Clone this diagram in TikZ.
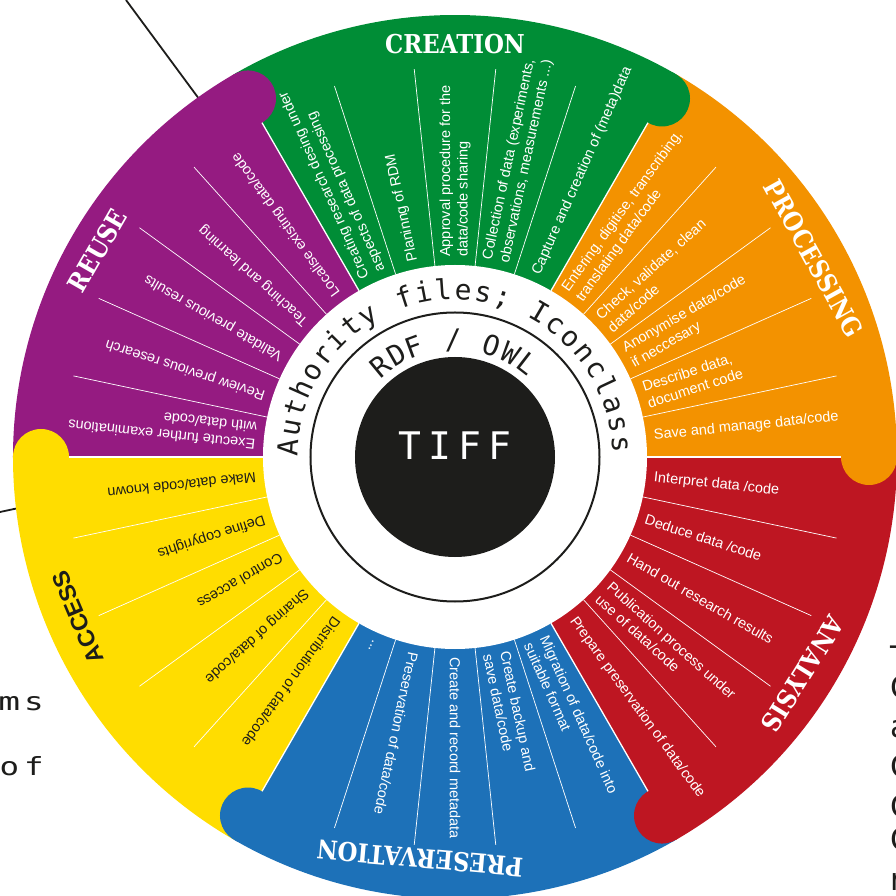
\documentclass[tikz,border=0pt]{standalone}
\usepackage{fontspec}
\setmainfont{Liberation Sans}
\newfontfamily\slabfont{DejaVu Serif}[FakeStretch=0.88]
\newfontfamily\ringfont{DejaVu Sans Mono}
\newfontfamily\sidefont{DejaVu Sans}
\definecolor{cgreen}{HTML}{008D36}
\definecolor{corange}{HTML}{F39200}
\definecolor{cred}{HTML}{BE1622}
\definecolor{cblue}{HTML}{1D71B8}
\definecolor{cyellow}{HTML}{FFDD00}
\definecolor{cpurple}{HTML}{951B81}
\definecolor{cdark}{HTML}{1D1D1B}
\tikzset{
  itemtxt/.style={text=white, font=\fontsize{14.5}{17.5}\selectfont, align=left, anchor=west, inner sep=0pt},
  itemdark/.style={itemtxt, text=cdark},
  phase/.style={text=white, font=\slabfont\bfseries\fontsize{26}{26}\selectfont, inner sep=0pt},
  phasedark/.style={text=cdark, font=\bfseries\fontsize{23.5}{23.5}\selectfont, inner sep=0pt},
  ringchar/.style={text=cdark, font=\ringfont\fontsize{28}{28}\selectfont, anchor=base, inner sep=0pt},
  sidetxt/.style={text=cdark, font=\ringfont\fontsize{25}{25}\selectfont, inner sep=0pt},
  edgetxt/.style={text=cdark, font=\sidefont\fontsize{31}{31}\selectfont, inner sep=0pt, anchor=base west},
  spoke/.style={white, line width=0.7pt},
  border/.style={white, line width=1.3pt},
  outerline/.style={cdark, line width=1.8pt},
}
\begin{document}
\begin{tikzpicture}[x=1pt,y=1pt]
\useasboundingbox (-455,-439) rectangle (440,457);
% lines coming from outside the wheel
\coordinate (ta) at (-329,457);
\coordinate (tb) at (-250,350);
\draw[outerline] (ta) -- (tb);
\coordinate (la) at (-455,-55);
\coordinate (lb) at (-420,-47.5);
\draw[outerline] (la) -- (lb);
% fragments of surrounding text
\node[sidetxt, anchor=base east] (ms) at (-411,-253) {\scalebox{1.45}[1]{m}\kern4pt\scalebox{1.3}[1]{s}};
\node[sidetxt, anchor=base east] (of) at (-411,-318) {\scalebox{1.3}[1]{o}\kern5pt\scalebox{1.3}[1]{f}};
\node[edgetxt] (e1) at (435,-211) {T};
\node[edgetxt] (e2) at (435,-241) {C};
\node[edgetxt] (e3) at (435,-280) {a};
\node[edgetxt] (e4) at (435,-320) {C};
\node[edgetxt] (e5) at (435,-360) {C};
\node[edgetxt] (e6) at (435,-393) {C};
\node[edgetxt] (e7) at (435,-433) {r};
% sectors
\foreach \a/\col in {0/corange,60/cgreen,120/cpurple,180/cyellow,240/cblue,300/cred}{
  \fill[\col] (0,0) -- (\a:442) arc[start angle=\a, delta angle=60, radius=442] -- cycle;
}
\foreach \a in {0,60,...,300}{\draw[border] (\a:192) -- (\a:400);}
% tabs
\foreach \a/\col in {0/corange,60/cgreen,120/cpurple,180/cyellow,240/cblue,300/cred}{
  \fill[\col] (\a:414) circle[radius=28];
}
\fill[white] (0,0) circle[radius=192];
% spokes
\foreach \s in {0,60,...,300}{
  \foreach \k in {12,24,36,48}{
    \draw[spoke] ({\s+\k}:192) -- ({\s+\k}:390);
  }
}
% CREATION
\node[itemtxt, rotate=114] (cr1) at (114:200) {Creating research desing under\\aspects of data processing};
\node[itemtxt, rotate=102] (cr2) at (102:200) {Planinng of RDM};
\node[itemtxt, rotate=90] (cr3) at (90:200) {Approval procedure for the\\data/code sharing};
\node[itemtxt, rotate=78] (cr4) at (78:200) {Collection of data (experiments,\\observations, measurements ...)};
\node[itemtxt, rotate=66] (cr5) at (66:200) {Capture and creation of (meta)data};
% PROCESSING
\node[itemtxt, rotate=54] (pr1) at (54:200) {Entering, digitise, transcribing,\\translating data/code};
\node[itemtxt, rotate=42] (pr2) at (42:200) {Check, validate, clean\\data/code};
\node[itemtxt, rotate=30] (pr3) at (30:200) {Anonymise data/code\\if neccesary};
\node[itemtxt, rotate=18] (pr4) at (18:200) {Describe data,\\document code};
\node[itemtxt, rotate=6] (pr5) at (6:200) {Save and manage data/code};
% ANALYSIS
\node[itemtxt, rotate=-6] (an1) at (-6:200) {Interpret data /code};
\node[itemtxt, rotate=-18] (an2) at (-18:200) {Deduce data /code};
\node[itemtxt, rotate=-30] (an3) at (-30:200) {Hand out research results};
\node[itemtxt, rotate=-42] (an4) at (-42:200) {Publication process under\\use of data/code};
\node[itemtxt, rotate=-54] (an5) at (-54:200) {Prepare preservation of data/code};
% PRESERVATION
\node[itemtxt, rotate=294] (ps1) at (294:200) {Migration of data/code into\\suitable format};
\node[itemtxt, rotate=282] (ps2) at (282:200) {Create backup and\\save data/code};
\node[itemtxt, rotate=270] (ps3) at (270:200) {Create and record metadata};
\node[itemtxt, rotate=258] (ps4) at (258:200) {Preservation of data/code};
\node[itemtxt, rotate=246] (ps5) at (246:200) {...};
% ACCESS
\node[itemdark, rotate=186] (ac1) at (186:200) {Make data/code known};
\node[itemdark, rotate=198] (ac2) at (198:200) {Define copyrights};
\node[itemdark, rotate=210] (ac3) at (210:200) {Control access};
\node[itemdark, rotate=222] (ac4) at (222:200) {Sharing of data/code};
\node[itemdark, rotate=234] (ac5) at (234:200) {Distribution of data/code};
% REUSE
\node[itemtxt, rotate=126] (ru1) at (126:200) {Localise existing data/code};
\node[itemtxt, rotate=138] (ru2) at (138:200) {Teaching and learning};
\node[itemtxt, rotate=150] (ru3) at (150:200) {Validate previous results};
\node[itemtxt, rotate=162] (ru4) at (162:200) {Review previous research};
\node[itemtxt, rotate=174] (ru5) at (174:200) {Execute further examinations\\with data/code};
% phase labels
\node[phase, rotate=0] (Lcre) at (90:413) {CREATION};
\node[phase, rotate=-61] (Lpro) at (29:410) {PROCESSING};
\node[phase, rotate=-122] (Lana) at (-32:410) {ANALYSIS};
\node[phase, rotate=175] (Lpre) at (265:403) {PRESERVATION};
\node[phasedark, rotate=113] (Lacc) at (203:410) {ACCESS};
\node[phase, rotate=60] (Lreu) at (150:413) {REUSE};
% centre
\draw[cdark, line width=2pt] (0,0) circle[radius=144.5];
\fill[cdark] (0,0) circle[radius=100];
\node[text=white, font=\ringfont\fontsize{38}{38}\selectfont, inner sep=0pt] (tiff) at (0,11) {T\kern7pt I\kern7pt F\kern7pt F};
\foreach \ch [count=\i from 0] in {A,u,t,h,o,r,i,t,y,{},f,i,l,e,s,{;},{},I,c,o,n,c,l,a,s,s}{
  \pgfmathsetmacro\ang{176.7-\i*6.888}
  \node[ringchar, rotate=\ang-90] (auth\i) at (\ang:157.5) {\ch};
}
\foreach \ch [count=\i from 0] in {R,D,F,{},/,{},O,W,L}{
  \pgfmathsetmacro\ang{129.5-\i*9.65}
  \node[ringchar, rotate=\ang-90] (rdf\i) at (\ang:107.5) {\ch};
}
\end{tikzpicture}
\end{document}
